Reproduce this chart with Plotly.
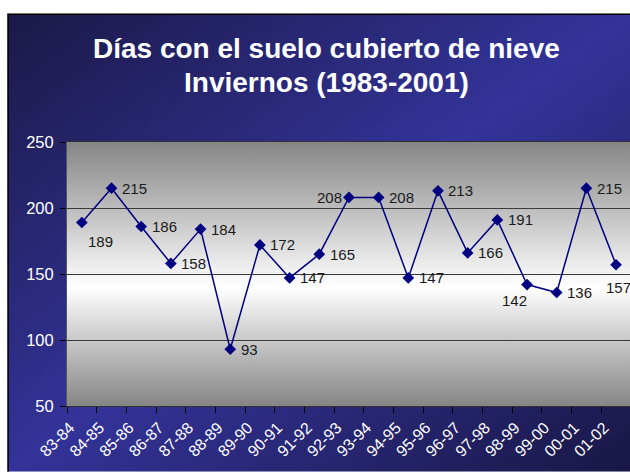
import base64
import plotly.graph_objects as go

# Snow-cover days per winter
winters = ['83-84', '84-85', '85-86', '86-87', '87-88', '88-89', '89-90', '90-91',
           '91-92', '92-93', '93-94', '94-95', '95-96', '96-97', '97-98', '98-99',
           '99-00', '00-01', '01-02']
snow_days = [189, 215, 186, 158, 184, 93, 172, 147, 165, 208, 208, 147, 213, 166,
             191, 142, 136, 215, 157]
y_ticks = [50, 100, 150, 200, 250]

# where each value label sits relative to its point
label_side = ['br', 'r', 'r', 'r', 'r', 'r', 'r', 'r', 'r', 'l', 'r', 'r', 'r', 'r',
              'r', 'bl', 'r', 'r', 'b']
side_style = {
    'r': dict(xanchor='left', xshift=8.5, yshift=0),
    'br': dict(xanchor='left', xshift=4, yshift=-19),
    'l': dict(xanchor='right', xshift=-4.5, yshift=0),
    'bl': dict(xanchor='right', xshift=1.5, yshift=-16),
    'b': dict(xanchor='center', xshift=2, yshift=-23),
}

W, H = 630, 472
L, R, T, B = 66.5, 0, 142.3, 65.7
PW, PH = W - L - R, H - T - B


def px_x(x):
    return (x - L) / PW


def px_y(y):
    return 1 - (y - T) / PH


def svg_uri(svg):
    return 'data:image/svg+xml;base64,' + base64.b64encode(svg.encode()).decode()


outer_svg = (
    '<svg xmlns="http://www.w3.org/2000/svg" width="100" height="100" viewBox="0 0 100 100" '
    'preserveAspectRatio="none"><defs><linearGradient id="g" x1="0" y1="0" x2="1" y2="1">'
    '<stop offset="0" stop-color="#1b1947"/><stop offset="0.5" stop-color="#333399"/>'
    '<stop offset="1" stop-color="#191745"/></linearGradient></defs>'
    '<rect width="100" height="100" fill="url(#g)"/></svg>'
)
plot_svg = (
    '<svg xmlns="http://www.w3.org/2000/svg" width="100" height="100" viewBox="0 0 100 100" '
    'preserveAspectRatio="none"><defs><linearGradient id="g" x1="0" y1="0" x2="0" y2="1">'
    '<stop offset="0" stop-color="#858585"/><stop offset="0.55" stop-color="#ffffff"/>'
    '<stop offset="1" stop-color="#858585"/></linearGradient></defs>'
    '<rect width="100" height="100" fill="url(#g)"/></svg>'
)

fig = go.Figure()
fig.add_trace(go.Scatter(
    x=winters,
    y=snow_days,
    mode='lines+markers',
    line=dict(color='#000080', width=1.5),
    marker=dict(symbol='diamond', size=9, color='#000080'),
    hoverinfo='x+y',
))

annotations = []
for w, v, side in zip(winters, snow_days, label_side):
    annotations.append(dict(
        x=w, y=v, xref='x', yref='y', text=str(v), showarrow=False,
        yanchor='middle', font=dict(family='Liberation Sans, Arial', size=15, color='#1a1a1a'),
        **side_style[side]
    ))

annotations.append(dict(
    x=px_x(326), y=px_y(48.5), xref='paper', yref='paper', showarrow=False,
    text='<b>Días con el suelo cubierto de nieve</b>', xanchor='center', yanchor='middle',
    font=dict(family='Liberation Sans, Arial', size=28, color='white'),
))
annotations.append(dict(
    x=px_x(326), y=px_y(83), xref='paper', yref='paper', showarrow=False,
    text='<b>Inviernos (1983-2001)</b>', xanchor='center', yanchor='middle',
    font=dict(family='Liberation Sans, Arial', size=28, color='white'),
))

fig.update_layout(
    width=W, height=H,
    margin=dict(l=L, r=R, t=T, b=B, pad=0),
    paper_bgcolor='white',
    plot_bgcolor='rgba(0,0,0,0)',
    showlegend=False,
    annotations=annotations,
    images=[
        dict(source=svg_uri(outer_svg), xref='paper', yref='paper',
             x=px_x(7), y=px_y(14), sizex=(W - 7) / PW, sizey=(H - 14) / PH,
             xanchor='left', yanchor='top', sizing='stretch', layer='below'),
        dict(source=svg_uri(plot_svg), xref='paper', yref='paper',
             x=0, y=1, sizex=1, sizey=1,
             xanchor='left', yanchor='top', sizing='stretch', layer='below'),
    ],
    shapes=[
        dict(type='line', xref='paper', yref='paper', x0=px_x(7.5), x1=px_x(7.5),
             y0=px_y(14), y1=px_y(H), line=dict(color='black', width=1.5)),
        dict(type='line', xref='paper', yref='paper', x0=px_x(7), x1=px_x(W),
             y0=px_y(14.5), y1=px_y(14.5), line=dict(color='black', width=1.5)),
    ],
    xaxis=dict(
        type='category',
        range=[-0.5, 18.47],
        tickson='boundaries',
        ticks='outside', ticklen=6, tickcolor='black', tickwidth=1,
        tickangle=-45,
        tickfont=dict(family='Liberation Sans, Arial', size=16, color='white'),
        ticklabelstandoff=5,
        ticklabelshift=-12,
        showgrid=False,
        showline=True, linecolor='#333333', linewidth=1, mirror=True,
        zeroline=False,
    ),
    yaxis=dict(
        range=[50, 250],
        tickvals=y_ticks,
        ticks='outside', ticklen=6, tickcolor='black', tickwidth=1,
        tickfont=dict(family='Liberation Sans, Arial', size=16.5, color='white'),
        ticklabelstandoff=3,
        showgrid=True, gridcolor='#3a3a3a', gridwidth=1,
        showline=True, linecolor='#555555', linewidth=1, mirror=True,
        zeroline=False,
    ),
)

# drop the browser's default body margin so the figure sits at the page corner
fig.write_html('out.html', config={'displayModeBar': False},
               post_script="document.body.style.margin='0';")
